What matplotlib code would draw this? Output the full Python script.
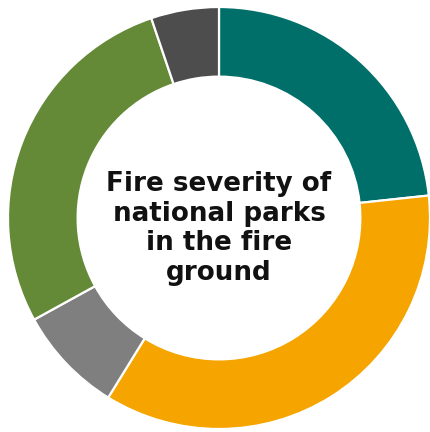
import matplotlib.pyplot as plt

labels = ["Teal", "Orange", "Grey", "Green", "Dark grey"]
shares = [23.3, 35.5, 8.2, 27.8, 5.2]
colors = ["#006f69", "#f5a400", "#7f7f7f", "#648a37", "#4d4d4d"]
title = "Fire severity of\nnational parks\nin the fire\nground"

fig = plt.figure(figsize=(4.30, 4.32), dpi=100)
ax = fig.add_axes([8 / 430, 3 / 432, 422 / 430, 422 / 432])

ax.pie(shares, colors=colors, startangle=90, counterclock=False,
       radius=1.0,
       wedgeprops=dict(width=0.33, edgecolor="white", linewidth=1.6))
ax.set_xlim(-1, 1)
ax.set_ylim(-1, 1)
ax.set_aspect("equal")
ax.axis("off")

ax.text(0, -0.05, title, ha="center", va="center", fontsize=18.8,
        fontfamily="DejaVu Sans", fontweight="bold", linespacing=1.18,
        color="#111111")

fig.savefig("out.png", dpi=100)
